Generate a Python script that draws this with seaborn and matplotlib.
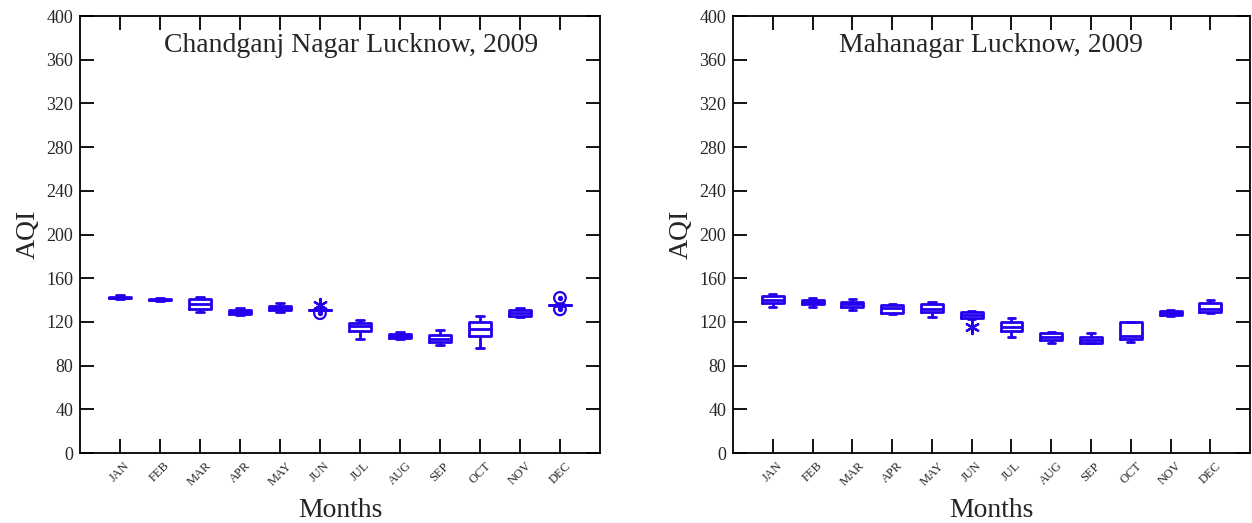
"""
AQI monthly box plots for two Lucknow sites, 2009.
"""

import matplotlib
matplotlib.use('Agg')
import matplotlib.pyplot as plt
import seaborn as sns
import pandas as pd
import numpy as np

MONTHS = ['JAN', 'FEB', 'MAR', 'APR', 'MAY', 'JUN',
          'JUL', 'AUG', 'SEP', 'OCT', 'NOV', 'DEC']
Y_TICKS = [0, 40, 80, 120, 160, 200, 240, 280, 320, 360, 400]

# Chandganj Nagar: lower whisker, Q1, median, Q3, upper whisker
cg_low = [141.0, 139.5, 129.0, 126.0, 129.0, 130.5, 104.0, 104.5, 99.0, 96.0, 124.5, 135.0]
cg_q1 = [141.5, 140.0, 132.0, 127.5, 130.5, 130.7, 112.0, 105.5, 102.0, 107.0, 125.5, 135.2]
cg_med = [142.0, 140.5, 136.0, 129.0, 133.0, 131.0, 116.0, 107.0, 104.5, 113.5, 128.0, 135.5]
cg_q3 = [143.0, 141.0, 141.0, 131.0, 135.0, 131.3, 119.0, 108.5, 108.0, 120.0, 130.5, 135.8]
cg_high = [144.5, 141.5, 143.0, 133.0, 137.0, 131.5, 122.0, 111.0, 112.5, 125.5, 133.0, 136.0]
cg_star_month = ['JUN']
cg_star_val = [135.5]
cg_circ_month = ['JUN', 'DEC', 'DEC']
cg_circ_val = [128.0, 142.0, 131.5]

# Mahanagar
mn_low = [134.0, 134.0, 130.5, 127.0, 124.5, 123.0, 106.5, 101.0, 100.5, 101.5, 125.5, 128.5]
mn_q1 = [137.5, 136.0, 134.0, 128.5, 129.0, 124.0, 111.5, 103.5, 101.0, 104.0, 126.0, 129.0]
mn_med = [140.5, 138.0, 136.0, 132.5, 132.0, 126.5, 115.5, 106.5, 103.0, 107.5, 128.0, 131.5]
mn_q3 = [143.5, 140.5, 138.0, 135.5, 136.0, 129.0, 119.5, 109.5, 106.0, 119.5, 130.0, 137.0]
mn_high = [146.0, 142.0, 141.0, 136.5, 138.0, 130.0, 124.0, 111.0, 110.0, 120.0, 130.5, 140.0]
mn_star_month = ['JUN']
mn_star_val = [115.5]
mn_circ_month = []
mn_circ_val = []

BLUE = '#2200ee'

sns.set_style('ticks')
plt.rcParams['font.family'] = ['Liberation Serif', 'DejaVu Serif']


def summary_frame(low, q1, med, q3, high):
    # five values per month reproduce the quartiles exactly
    rows = []
    for m, vals in zip(MONTHS, zip(low, q1, med, q3, high)):
        for v in vals:
            rows.append({'Month': m, 'AQI': v})
    return pd.DataFrame(rows)


def draw_panel(ax, title, title_x, low, q1, med, q3, high,
               star_month, star_val, circ_month, circ_val):
    df = summary_frame(low, q1, med, q3, high)
    line_kw = dict(color=BLUE, linewidth=2)
    sns.boxplot(data=df, x='Month', y='AQI', order=MONTHS, ax=ax,
                whis=(0, 100), width=0.55, fill=False, color=BLUE,
                linewidth=2, showfliers=False, capwidths=0.18,
                boxprops=line_kw, whiskerprops=line_kw,
                capprops=line_kw, medianprops=line_kw)

    if star_month:
        ax.scatter([MONTHS.index(m) for m in star_month], star_val,
                   marker=(6, 2, 0), s=90, color=BLUE, linewidths=1.6, zorder=5)
    if circ_month:
        xs = [MONTHS.index(m) for m in circ_month]
        ax.scatter(xs, circ_val, marker='o', s=70, facecolors='none',
                   edgecolors=BLUE, linewidths=1.6, zorder=5)
        ax.scatter(xs, circ_val, marker='o', s=8, color=BLUE, zorder=5)

    ax.set_xlim(-1, 12)
    ax.set_ylim(0, 400)
    ax.set_yticks(Y_TICKS)
    ax.set_xticks(range(len(MONTHS)))
    ax.set_xticklabels(MONTHS, rotation=45, ha='center', fontsize=9)
    ax.tick_params(axis='y', labelsize=13)
    ax.tick_params(direction='in', top=True, right=True, length=10,
                   width=1.3, color='black', pad=5)
    for sp in ax.spines.values():
        sp.set_visible(True)
        sp.set_linewidth(1.3)
        sp.set_color('black')
    ax.set_xlabel('Months', fontsize=20, labelpad=7)
    ax.set_ylabel('AQI', fontsize=20, labelpad=4)
    ax.text(title_x, 0.932, title, transform=ax.transAxes, ha='center',
            va='center', fontsize=20)


fig = plt.figure(figsize=(12.52, 5.23), dpi=100)
ax1 = fig.add_axes([0.0639, 0.1338, 0.4153, 0.8356])
ax2 = fig.add_axes([0.5855, 0.1338, 0.4130, 0.8356])

draw_panel(ax1, 'Chandganj Nagar Lucknow, 2009', 0.521,
           cg_low, cg_q1, cg_med, cg_q3, cg_high,
           cg_star_month, cg_star_val, cg_circ_month, cg_circ_val)
draw_panel(ax2, 'Mahanagar Lucknow, 2009', 0.499,
           mn_low, mn_q1, mn_med, mn_q3, mn_high,
           mn_star_month, mn_star_val, mn_circ_month, mn_circ_val)

fig.savefig('out.png', dpi=100)
